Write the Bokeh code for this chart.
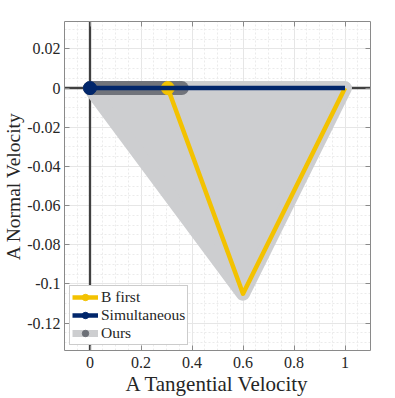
import numpy as np
from bokeh.plotting import figure
from bokeh.models import (FixedTicker, CustomJSTickFormatter, LinearAxis, Legend,
                          LegendItem, Span, Range1d)
from bokeh.embed import file_html
from bokeh.resources import INLINE

# ---------------- data ----------------
ours_x = [0.0, 1.0, 0.6]
ours_y = [0.0, 0.0, -0.105]
ours_start_x = [0.0, 0.36]
ours_start_y = [0.0, 0.0]
bfirst_x = [0.305, 0.6, 1.0]
bfirst_y = [0.0, -0.105, 0.0]
sim_x = [0.0, 1.0]
sim_y = [0.0, 0.0]
x_ticks = [0, 0.2, 0.4, 0.6, 0.8, 1.0]
y_ticks = [-0.12, -0.1, -0.08, -0.06, -0.04, -0.02, 0, 0.02]
x_minor = [round(v, 3) for v in np.arange(-0.1, 1.1001, 0.05)]
y_minor = [round(v, 4) for v in np.arange(-0.135, 0.0351, 0.005)]

FONT = "Liberation Serif"
LIGHT = "#cdced0"
DARK = "#6c6f76"
YEL = "#f3c200"
NAVY = "#01266b"
AXC = "#8a8a8a"
TXT = "#262626"

p = figure(width=395, height=398, x_range=Range1d(-0.1, 1.1), y_range=Range1d(-0.134, 0.034),
           output_backend="svg", toolbar_location=None,
           min_border_left=64, min_border_right=25, min_border_top=21, min_border_bottom=48)
p.outline_line_color = None
p.background_fill_color = "white"
p.border_fill_color = "white"

xt = FixedTicker(ticks=x_ticks, minor_ticks=x_minor)
yt = FixedTicker(ticks=y_ticks, minor_ticks=y_minor)
fmt = CustomJSTickFormatter(code="return String(Math.round(tick*1000)/1000);")

for ax in (p.xaxis[0], p.yaxis[0]):
    ax.formatter = fmt
    ax.axis_line_color = AXC
    ax.major_tick_line_color = AXC
    ax.major_tick_in = 5
    ax.major_tick_out = 0
    ax.minor_tick_in = 0
    ax.minor_tick_out = 0
    ax.major_label_text_font = FONT
    ax.major_label_text_font_size = "16px"
    ax.major_label_text_color = TXT
    ax.axis_label_text_font = FONT
    ax.axis_label_text_font_style = "normal"
    ax.axis_label_text_color = TXT
p.xaxis[0].ticker = xt
p.yaxis[0].ticker = yt
p.xaxis[0].axis_label = "A Tangential Velocity"
p.yaxis[0].axis_label = "A Normal Velocity"
p.xaxis[0].axis_label_text_font_size = "21px"
p.yaxis[0].axis_label_text_font_size = "19.5px"
p.xaxis[0].major_label_standoff = 6
p.xaxis[0].axis_label_standoff = 1
p.yaxis[0].major_label_standoff = 4
p.yaxis[0].axis_label_standoff = 0

for loc, tk in (("above", xt), ("right", yt)):
    a = LinearAxis(ticker=tk, formatter=CustomJSTickFormatter(code="return '';"),
                   axis_line_color=AXC, major_tick_line_color=AXC, major_tick_in=5,
                   major_tick_out=0, minor_tick_in=0, minor_tick_out=0,
                   major_label_standoff=0, major_label_text_font_size="1px")
    p.add_layout(a, loc)

p.xgrid.ticker = xt
p.ygrid.ticker = yt
for g in (p.xgrid[0], p.ygrid[0]):
    g.grid_line_color = "#e6e6e6"
    g.grid_line_width = 1
    g.minor_grid_line_color = "#ebebeb"
    g.minor_grid_line_dash = "2 2"

p.add_layout(Span(location=0, dimension="width", line_color="#404040", line_width=2.5, level="underlay"))
p.add_layout(Span(location=0, dimension="height", line_color="#404040", line_width=2.3, level="underlay"))

# Ours region
p.patch(ours_x, ours_y, fill_color=LIGHT, line_color=LIGHT, line_width=14, line_join="round")
p.line(ours_start_x, ours_start_y, line_color=DARK, line_width=14, line_cap="round", line_alpha=0.95)

# B first
by = p.line(bfirst_x, bfirst_y, line_color=YEL, line_width=4.5, line_join="round")
bm = p.scatter(bfirst_x[:1], bfirst_y[:1], size=13, fill_color=YEL, line_color=YEL)

# Simultaneous
sl = p.line(sim_x, sim_y, line_color=NAVY, line_width=4.5)
sm = p.scatter(sim_x[:1], sim_y[:1], size=13, fill_color=NAVY, line_color=NAVY)

# legend proxies for Ours (no visible data)
ol = p.line([np.nan], [np.nan], line_color=LIGHT, line_width=7)
om = p.scatter([np.nan], [np.nan], size=11, fill_color=DARK, line_color=DARK)

legend = Legend(items=[LegendItem(label="B first", renderers=[by, bm]),
                       LegendItem(label="Simultaneous", renderers=[sl, sm]),
                       LegendItem(label="Ours", renderers=[ol, om])],
                location="bottom_left")
legend.margin = 5
legend.padding = 2
legend.spacing = 0
legend.label_height = 16
legend.glyph_height = 16
legend.glyph_width = 26
legend.label_standoff = 3
legend.label_text_font = FONT
legend.label_text_font_size = "15.5px"
legend.label_text_color = TXT
legend.border_line_color = "#9a9a9a"
legend.border_line_width = 1
legend.background_fill_color = "white"
legend.background_fill_alpha = 1
p.add_layout(legend)

open("out.html", "w").write(file_html(p, INLINE))
